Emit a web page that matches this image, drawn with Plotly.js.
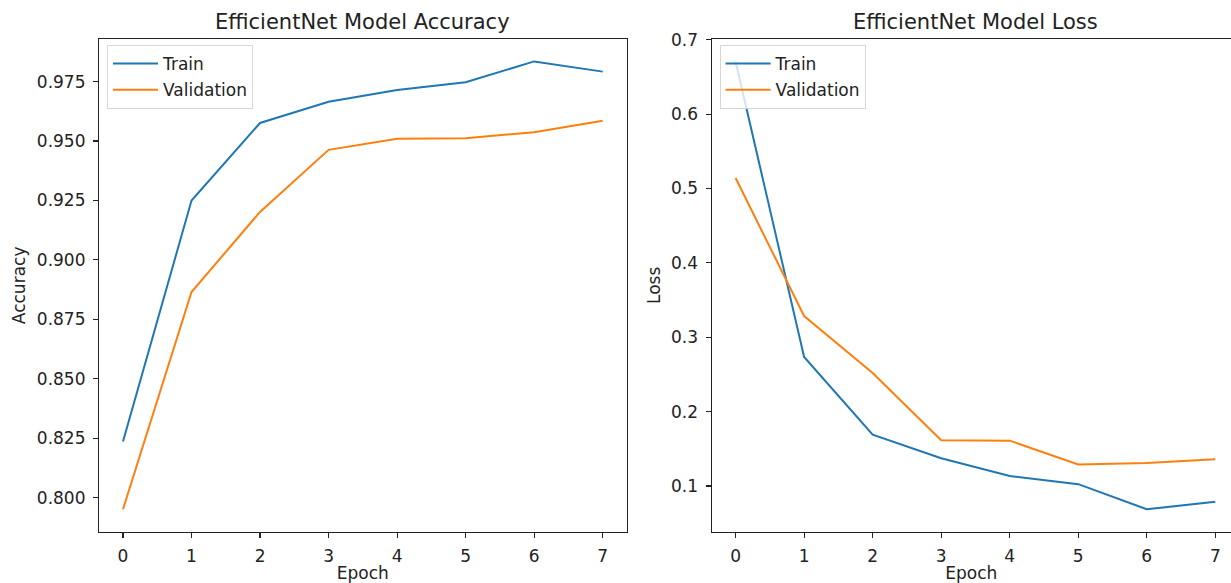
<!DOCTYPE html>
<html>
<head>
<meta charset="utf-8">
<script src="https://cdn.plot.ly/plotly-3.0.1.min.js"></script>
<style>html,body{margin:0;padding:0;background:#fff}#chart{width:1231px;height:583px}</style>
</head>
<body>
<div id="chart"></div>
<script>
const epochs = [0, 1, 2, 3, 4, 5, 6, 7];
const trainAcc = [0.8236, 0.925, 0.9576, 0.9665, 0.9715, 0.9747, 0.9835, 0.9792];
const valAcc = [0.7951, 0.8865, 0.9202, 0.9463, 0.951, 0.9512, 0.9537, 0.9585];
const trainLoss = [0.6708, 0.2734, 0.169, 0.1374, 0.1135, 0.1025, 0.0687, 0.0789];
const valLoss = [0.514, 0.3285, 0.252, 0.1615, 0.161, 0.129, 0.131, 0.136];
const accTicks = [0.800, 0.825, 0.850, 0.875, 0.900, 0.925, 0.950, 0.975];
const lossTicks = [0.1, 0.2, 0.3, 0.4, 0.5, 0.6, 0.7];
const seriesNames = ['Train', 'Validation'];
const titles = ['EfficientNet Model Accuracy', 'EfficientNet Model Loss'];

const W = 1231, H = 583;
const blue = '#1f77b4', orange = '#ff7f0e';
const font = 'DejaVu Sans, sans-serif';
const fs = 17;

function pad(arr) {
  const mn = Math.min(...arr), mx = Math.max(...arr), d = mx - mn;
  return [mn - 0.05 * d, mx + 0.05 * d];
}
const accRange = pad(trainAcc.concat(valAcc));
const lossRange = pad(trainLoss.concat(valLoss));

const ax1L = 99, ax1R = 626.7, ax2L = 711.6;
const axW = ax1R - ax1L;
const axTop = 39, axBottom = 531.7;
const pxPerUnit = axW / 7.7;
const x2max = -0.35 + (W - ax2L) / pxPerUnit;

const traces = [
  {x: epochs, y: trainAcc, name: seriesNames[0], legendgroup: 'a', mode: 'lines', line: {color: blue, width: 2}, xaxis: 'x', yaxis: 'y', legend: 'legend'},
  {x: epochs, y: valAcc, name: seriesNames[1], legendgroup: 'b', mode: 'lines', line: {color: orange, width: 2}, xaxis: 'x', yaxis: 'y', legend: 'legend'},
  {x: epochs, y: trainLoss, name: seriesNames[0], legendgroup: 'c', mode: 'lines', line: {color: blue, width: 2}, xaxis: 'x2', yaxis: 'y2', legend: 'legend2'},
  {x: epochs, y: valLoss, name: seriesNames[1], legendgroup: 'd', mode: 'lines', line: {color: orange, width: 2}, xaxis: 'x2', yaxis: 'y2', legend: 'legend2'}
];

const axCommon = {
  showgrid: false, zeroline: false, showline: true, linecolor: '#222', linewidth: 1.1,
  ticks: 'outside', ticklen: 5, tickwidth: 1.1, tickcolor: '#222',
  tickfont: {family: font, size: fs, color: '#222'}, ticklabelstandoff: 4, fixedrange: true
};
const yDom = [1 - axBottom / H, 1 - axTop / H];
const titleFont = {family: font, size: fs, color: '#222'};

const legendCommon = {
  xref: 'paper', yref: 'paper', xanchor: 'left', yanchor: 'top',
  bgcolor: 'rgba(255,255,255,0.8)', bordercolor: '#d6d6d6', borderwidth: 1,
  font: {family: font, size: fs, color: '#222'}, tracegroupgap: 1, itemwidth: 45
};

const layout = {
  width: W, height: H,
  margin: {l: 0, r: 0, t: 0, b: 0},
  paper_bgcolor: '#fff', plot_bgcolor: '#fff',
  font: {family: font, color: '#222'},
  xaxis: Object.assign({}, axCommon, {domain: [ax1L / W, ax1R / W], range: [-0.35, 7.35], tickvals: epochs, mirror: true, anchor: 'y',
    title: {text: 'Epoch', font: titleFont, standoff: 5}}),
  yaxis: Object.assign({}, axCommon, {domain: yDom, range: accRange, tickvals: accTicks, tickformat: '.3f', mirror: true, anchor: 'x',
    title: {text: 'Accuracy', font: titleFont, standoff: 6}}),
  xaxis2: Object.assign({}, axCommon, {domain: [ax2L / W, 1], range: [-0.35, x2max], tickvals: epochs, mirror: true, anchor: 'y2',
    title: {text: 'Epoch', font: titleFont, standoff: 5}}),
  yaxis2: Object.assign({}, axCommon, {domain: yDom, range: lossRange, tickvals: lossTicks, tickformat: '.1f', mirror: false, anchor: 'x2',
    title: {text: 'Loss', font: titleFont, standoff: 6}}),
  legend: Object.assign({}, legendCommon, {x: (ax1L + 8) / W, y: 1 - (axTop + 6) / H}),
  legend2: Object.assign({}, legendCommon, {x: (ax2L + 8) / W, y: 1 - (axTop + 6) / H}),
  showlegend: true,
  annotations: [
    {text: titles[0], xref: 'paper', yref: 'paper', x: (ax1L + ax1R) / 2 / W, y: 1 - (axTop - 3) / H, xanchor: 'center', yanchor: 'bottom', showarrow: false, font: {family: font, size: 21, color: '#222'}},
    {text: titles[1], xref: 'paper', yref: 'paper', x: (ax2L + ax2L + axW) / 2 / W, y: 1 - (axTop - 3) / H, xanchor: 'center', yanchor: 'bottom', showarrow: false, font: {family: font, size: 21, color: '#222'}}
  ]
};

Plotly.newPlot('chart', traces, layout, {displayModeBar: false, staticPlot: true});
</script>
</body>
</html>
